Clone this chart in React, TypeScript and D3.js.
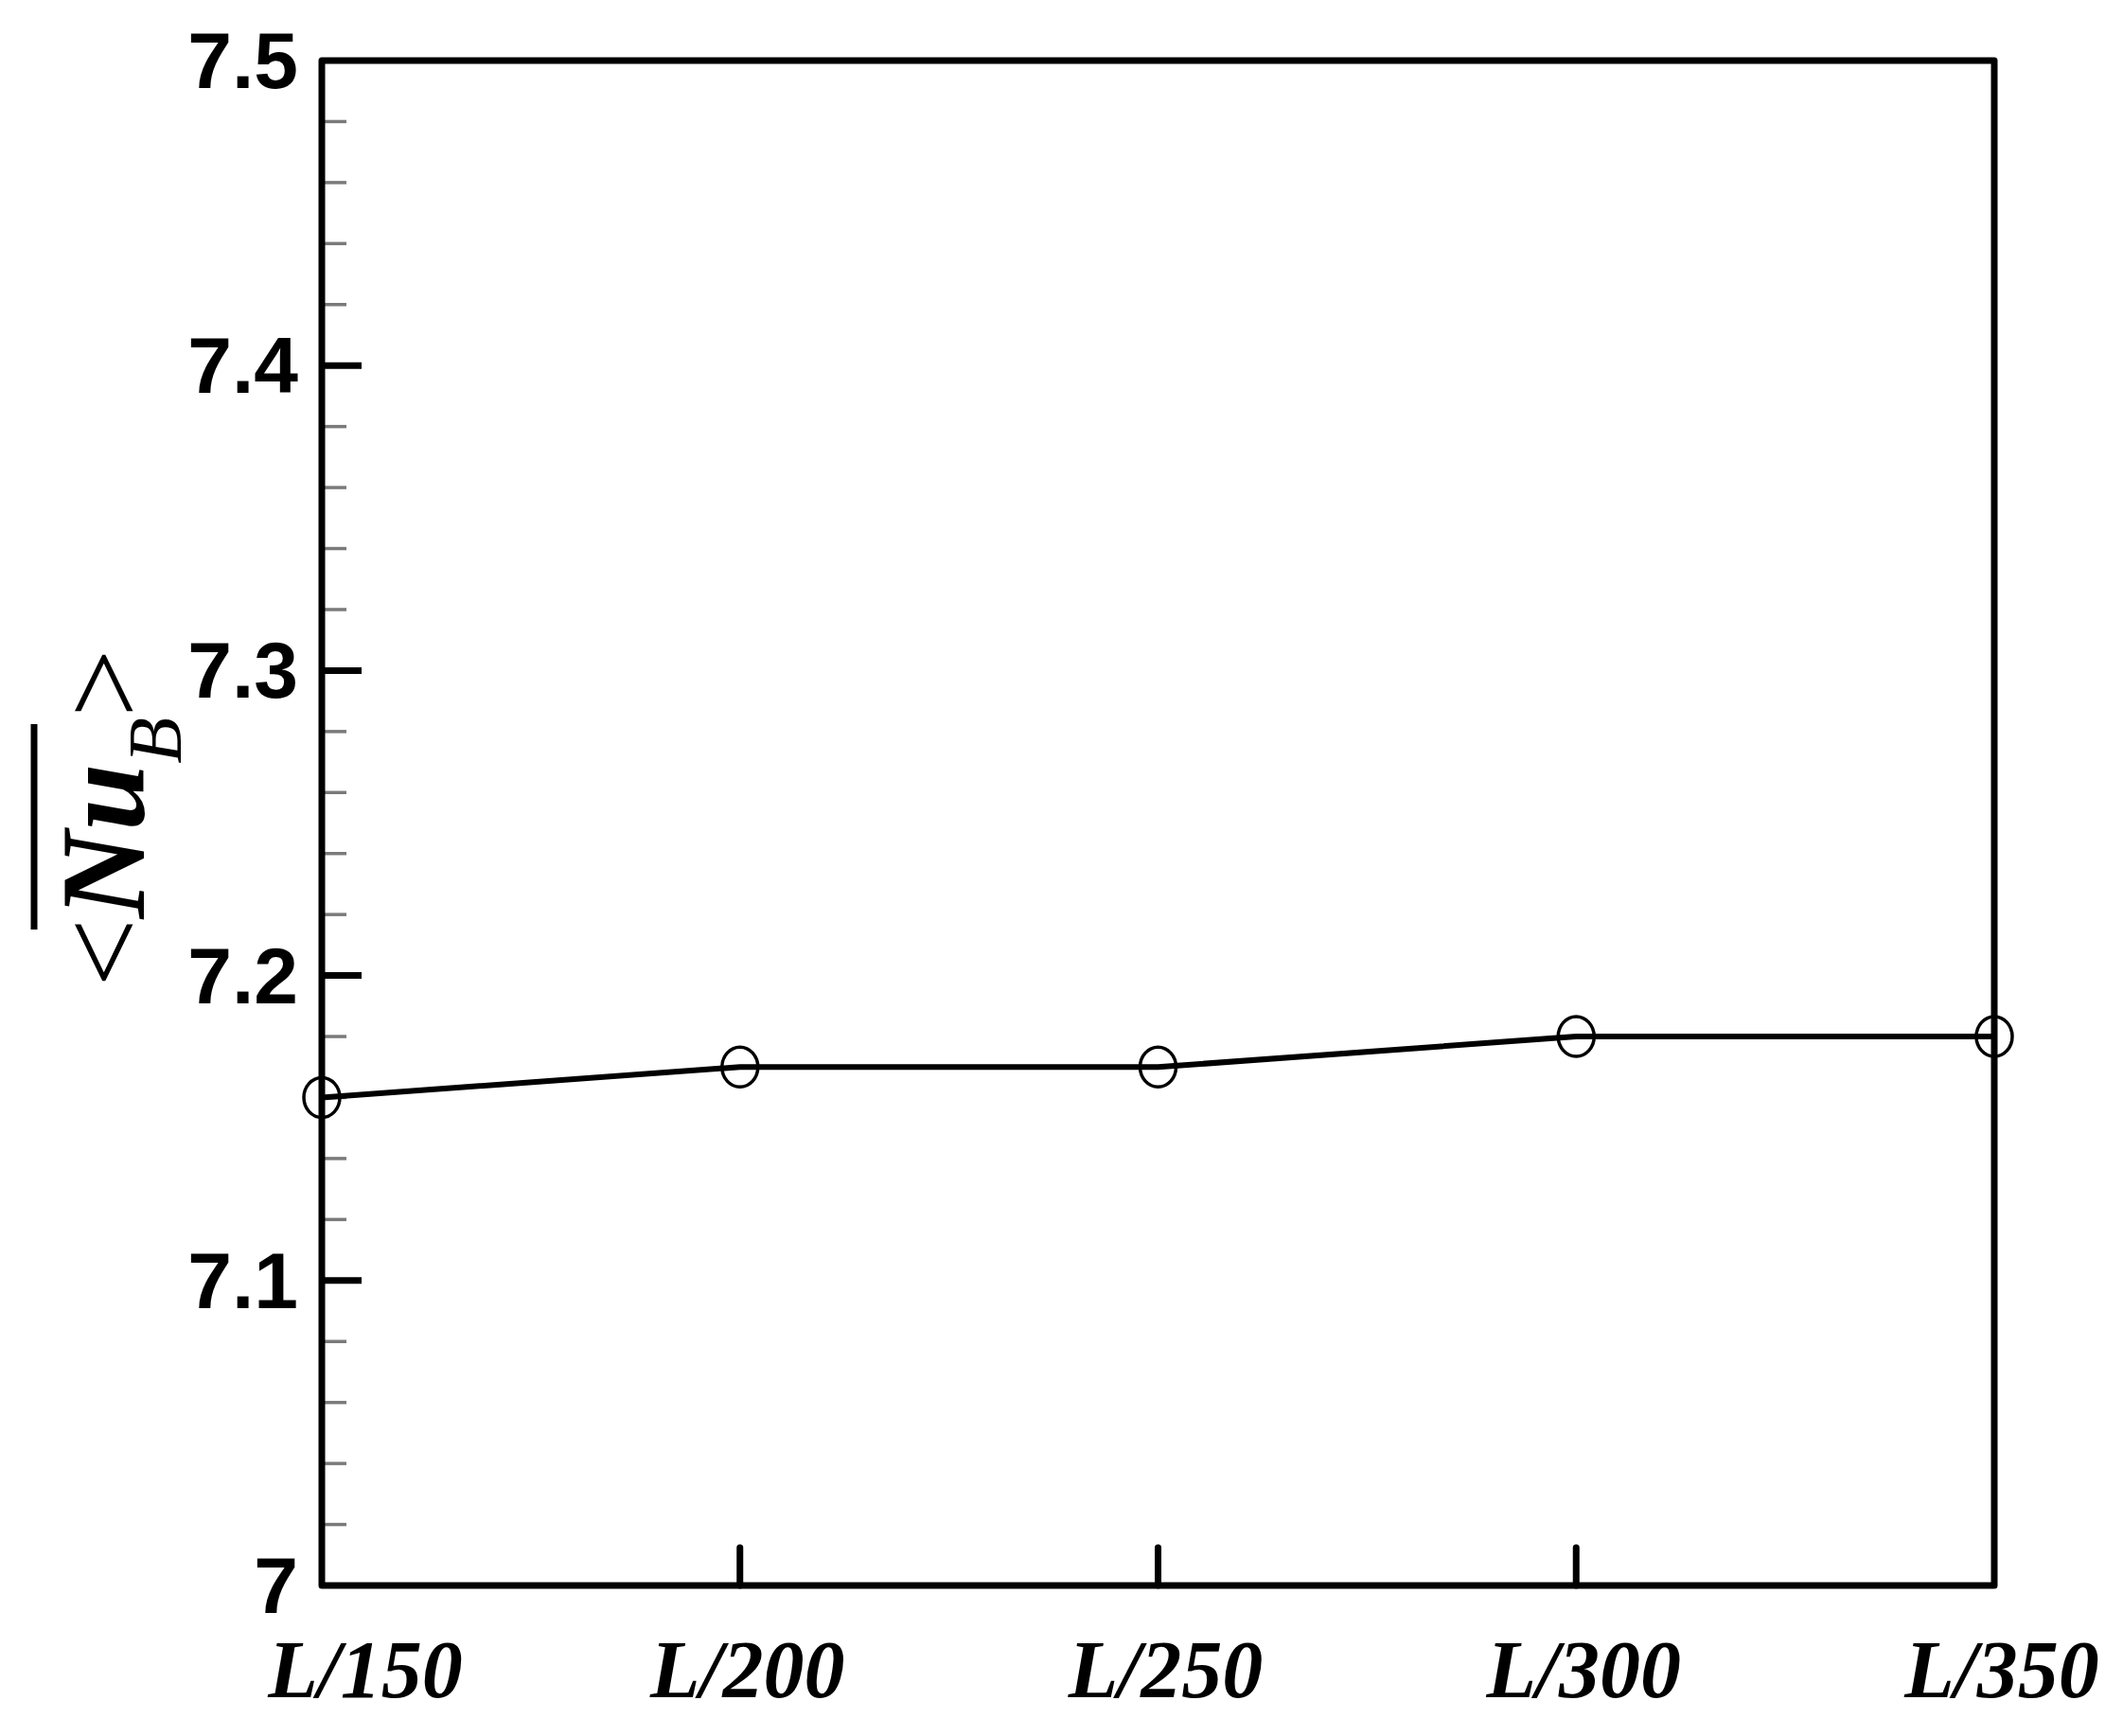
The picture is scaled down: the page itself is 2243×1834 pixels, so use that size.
import React, { useRef, useEffect } from 'react';
import * as d3 from 'd3';

const categories = ['L/150', 'L/200', 'L/250', 'L/300', 'L/350'];
const nuValues = [7.16, 7.17, 7.17, 7.18, 7.18];
const yMajorTicks = [7, 7.1, 7.2, 7.3, 7.4, 7.5];
const yTickLabels = ['7', '7.1', '7.2', '7.3', '7.4', '7.5'];

const W = 2243;
const H = 1834;
const left = 340, right = 2107, top = 64, bottom = 1675;

function NuChart() {
  const svgRef = useRef<SVGSVGElement>(null);

  useEffect(() => {
    const svg = d3.select(svgRef.current);
    svg.selectAll('*').remove();

    const x = d3.scalePoint<string>().domain(categories).range([left, right]);
    const y = d3.scaleLinear().domain([7, 7.5]).range([bottom, top]);

    // minor ticks (every 0.02)
    const minor = d3.range(0, 26).map(i => 7 + i * 0.02).filter(v => Math.round(v * 100) % 10 !== 0);
    svg.selectAll('.minor')
      .data(minor)
      .enter()
      .append('line')
      .attr('x1', left)
      .attr('x2', left + 26)
      .attr('y1', d => y(d))
      .attr('y2', d => y(d))
      .attr('stroke', '#7a7a7a')
      .attr('stroke-width', 3.5);

    // major ticks
    svg.selectAll('.major')
      .data(yMajorTicks.slice(1, -1))
      .enter()
      .append('line')
      .attr('x1', left)
      .attr('x2', left + 42)
      .attr('y1', d => y(d))
      .attr('y2', d => y(d))
      .attr('stroke', '#000')
      .attr('stroke-width', 7);

    // x ticks (interior only)
    svg.selectAll('.xtick')
      .data(categories.slice(1, -1))
      .enter()
      .append('line')
      .attr('x1', d => x(d)!)
      .attr('x2', d => x(d)!)
      .attr('y1', bottom)
      .attr('y2', bottom - 40)
      .attr('stroke', '#000')
      .attr('stroke-width', 7)
      .attr('stroke-linecap', 'round');

    // frame
    svg.append('rect')
      .attr('x', left)
      .attr('y', top)
      .attr('width', right - left)
      .attr('height', bottom - top)
      .attr('fill', 'none')
      .attr('stroke', '#000')
      .attr('stroke-width', 7)
      .attr('stroke-linejoin', 'round');

    // y tick labels
    svg.selectAll('.ylab')
      .data(yMajorTicks)
      .enter()
      .append('text')
      .attr('x', left - 25)
      .attr('y', d => y(d))
      .attr('text-anchor', 'end')
      .attr('dominant-baseline', 'central')
      .attr('font-family', '"Liberation Sans", Arial, sans-serif')
      .attr('font-weight', 'bold')
      .attr('font-size', 84)
      .text((d, i) => yTickLabels[i]);

    // x tick labels
    svg.selectAll('.xlab')
      .data(categories)
      .enter()
      .append('text')
      .attr('x', (d, i) => x(d)! + (i === 0 ? 46 : 8))
      .attr('y', 1793)
      .attr('text-anchor', 'middle')
      .attr('font-family', '"Liberation Serif", "Times New Roman", serif')
      .attr('font-weight', 'bold')
      .attr('font-style', 'italic')
      .attr('font-size', 86)
      .text(d => d);

    // data line
    const line = d3.line<number>()
      .x((d, i) => x(categories[i])!)
      .y(d => y(d));

    svg.append('path')
      .datum(nuValues)
      .attr('d', line)
      .attr('fill', 'none')
      .attr('stroke', '#000')
      .attr('stroke-width', 6)
      .attr('stroke-linejoin', 'round');

    svg.selectAll('.marker')
      .data(nuValues)
      .enter()
      .append('ellipse')
      .attr('cx', (d, i) => x(categories[i])!)
      .attr('cy', d => y(d))
      .attr('rx', 19)
      .attr('ry', 21)
      .attr('fill', 'none')
      .attr('stroke', '#000')
      .attr('stroke-width', 3.5);

    // y axis title <Nu_B> with overline
    const g = svg.append('g')
      .attr('transform', 'translate(152,864) rotate(-90)');
    const t = g.append('text')
      .attr('text-anchor', 'middle')
      .attr('font-family', '"Liberation Serif", "Times New Roman", serif')
      .attr('font-size', 128);
    t.append('tspan').text('<');
    t.append('tspan').attr('font-weight', 'bold').attr('font-style', 'italic').text('Nu');
    t.append('tspan').attr('font-style', 'italic').attr('font-size', 80).attr('dy', 39).text('B');
    t.append('tspan').attr('dy', -39).text('>');

    svg.append('line')
      .attr('x1', 36)
      .attr('x2', 36)
      .attr('y1', 765)
      .attr('y2', 982)
      .attr('stroke', '#000')
      .attr('stroke-width', 7);
  }, []);

  return (
    <svg ref={svgRef} width={W} height={H}
      style={{ position: 'absolute', left: 0, top: 0, background: '#fff' }}>
    </svg>
  );
}

export default function App() {
  return <NuChart />;
}
